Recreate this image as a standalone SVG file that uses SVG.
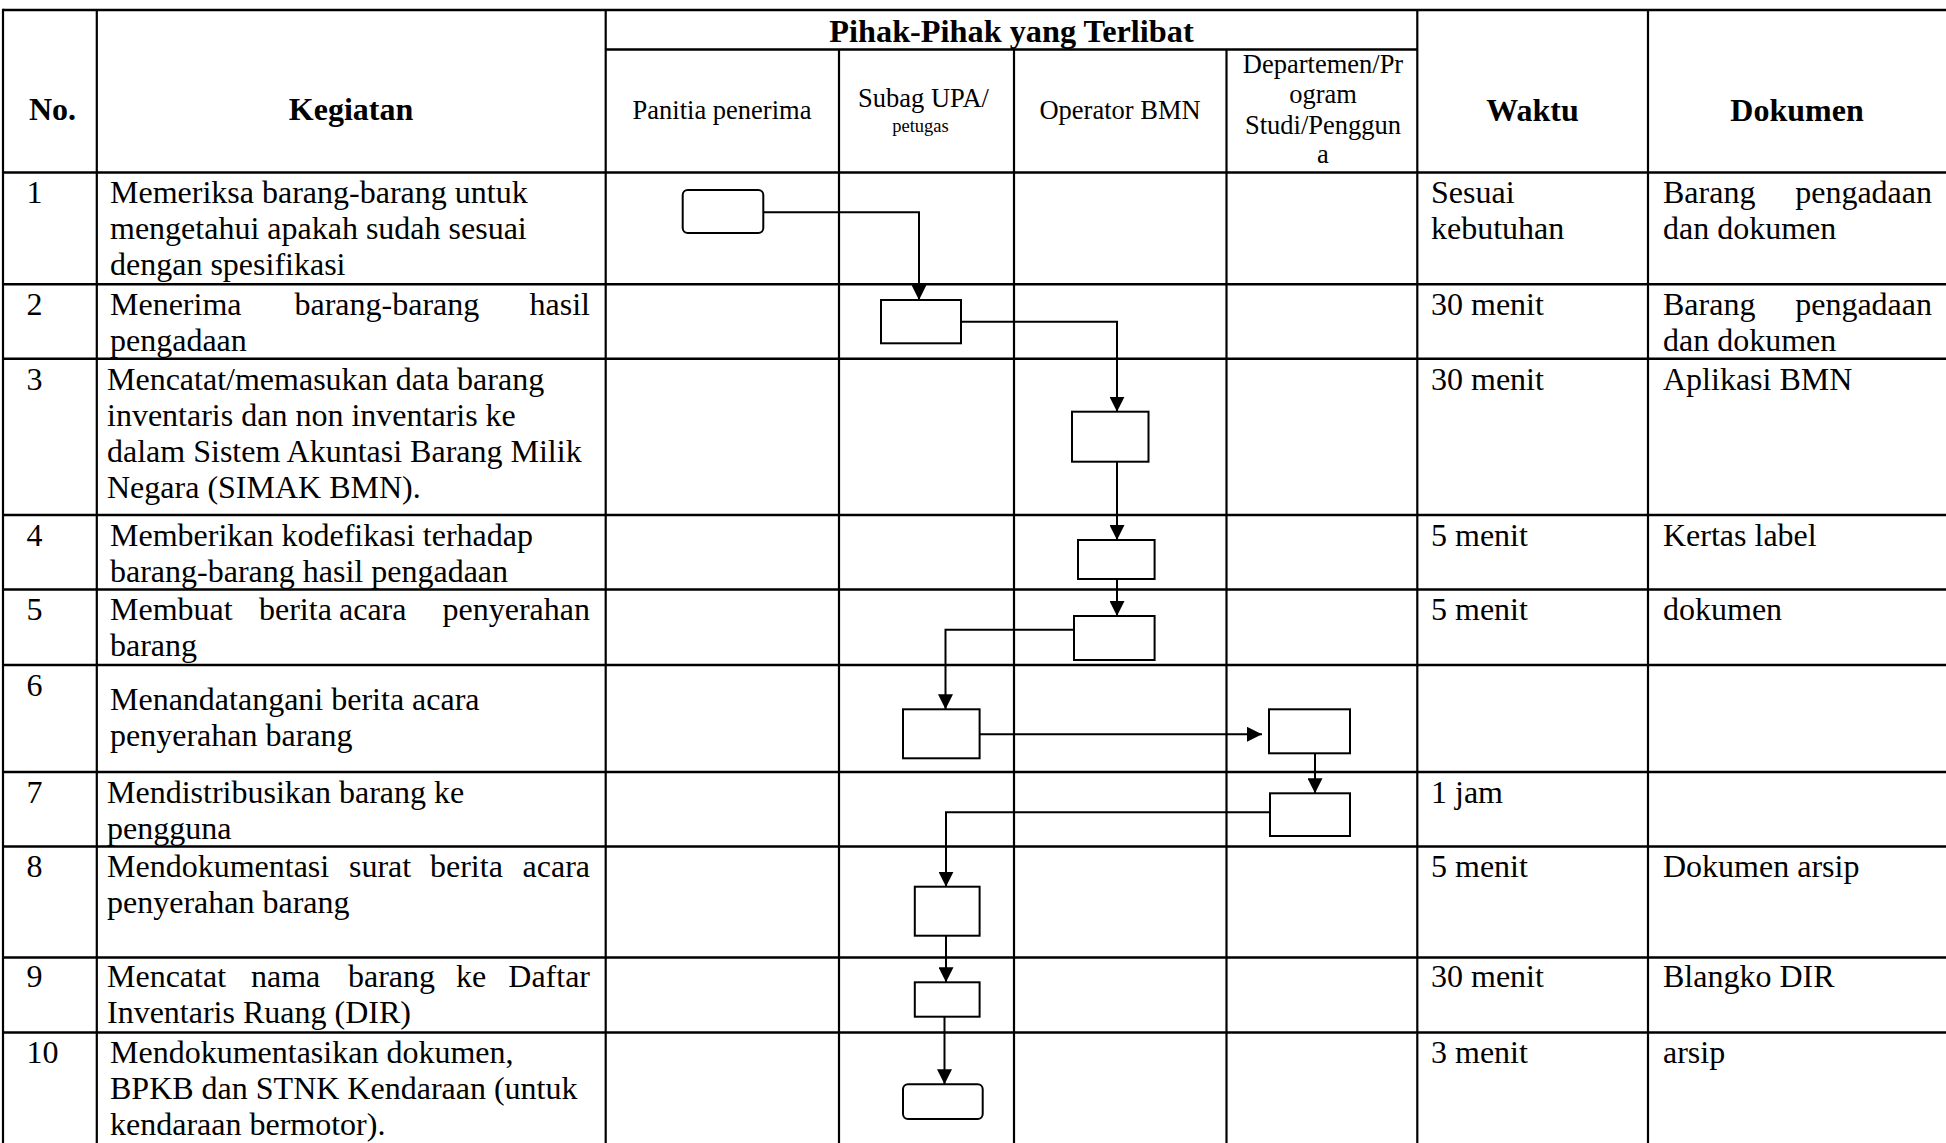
<svg xmlns="http://www.w3.org/2000/svg" width="1946" height="1143" viewBox="0 0 1946 1143">
<style>
.bg{fill:#fff}
.g{stroke:#000;stroke-width:2.5;fill:none}
.gv{stroke:#000;stroke-width:2.2;fill:none}
.box{fill:#fff;stroke:#000;stroke-width:2}
.c{fill:none;stroke:#000;stroke-width:2}
text{font-family:"Liberation Serif","Times New Roman",serif;fill:#000}
.t{font-size:32px}
.h{font-size:32px;font-weight:bold}
.s{font-size:26.5px}
.xs{font-size:18.5px}
.m{text-anchor:middle}
.e{text-anchor:end}
</style>
<defs>
<marker id="arr" markerUnits="userSpaceOnUse" markerWidth="15" markerHeight="15" refX="15" refY="7.5" orient="auto">
<path d="M0,0 L15,7.5 L0,15 z" fill="#000"/>
</marker>
</defs>
<rect class="bg" x="0" y="0" width="1946" height="1143"/>
<g id="grid">
<line class="g" x1="3" y1="10" x2="1946" y2="10"/>
<line class="g" x1="605.7" y1="49.6" x2="1417.3" y2="49.6"/>
<line class="g" x1="3" y1="172.5" x2="1946" y2="172.5"/>
<line class="g" x1="3" y1="284.3" x2="1946" y2="284.3"/>
<line class="g" x1="3" y1="358.7" x2="1946" y2="358.7"/>
<line class="g" x1="3" y1="515" x2="1946" y2="515"/>
<line class="g" x1="3" y1="589.5" x2="1946" y2="589.5"/>
<line class="g" x1="3" y1="665" x2="1946" y2="665"/>
<line class="g" x1="3" y1="772" x2="1946" y2="772"/>
<line class="g" x1="3" y1="846.4" x2="1946" y2="846.4"/>
<line class="g" x1="3" y1="957.5" x2="1946" y2="957.5"/>
<line class="g" x1="3" y1="1032.6" x2="1946" y2="1032.6"/>
<line class="gv" x1="3" y1="8.8" x2="3" y2="1143"/>
<line class="gv" x1="96.8" y1="10" x2="96.8" y2="1143"/>
<line class="gv" x1="605.7" y1="10" x2="605.7" y2="1143"/>
<line class="gv" x1="839" y1="49.6" x2="839" y2="1143"/>
<line class="gv" x1="1014" y1="49.6" x2="1014" y2="1143"/>
<line class="gv" x1="1226.5" y1="49.6" x2="1226.5" y2="1143"/>
<line class="gv" x1="1417.3" y1="10" x2="1417.3" y2="1143"/>
<line class="gv" x1="1648" y1="10" x2="1648" y2="1143"/>
</g>
<g id="header">
<text class="h" x="29" y="120">No.</text>
<text class="h m" x="351" y="120">Kegiatan</text>
<text class="h m" x="1011.5" y="42" style="font-size:32.3px">Pihak-Pihak yang Terlibat</text>
<text class="s m" x="722" y="118.5">Panitia penerima</text>
<text class="s m" x="923.5" y="106.5">Subag UPA/</text>
<text class="xs m" x="920.5" y="131.5">petugas</text>
<text class="s m" x="1120" y="119">Operator BMN</text>
<text class="s m" x="1323" y="73">Departemen/Pr</text>
<text class="s m" x="1323" y="103">ogram</text>
<text class="s m" x="1323" y="133.5">Studi/Penggun</text>
<text class="s m" x="1323" y="163">a</text>
<text class="h m" x="1532.5" y="121">Waktu</text>
<text class="h m" x="1797" y="121">Dokumen</text>
</g>
<g id="rows">
<text class="t" x="26.5" y="203">1</text>
<text class="t" x="110" y="203">Memeriksa barang-barang untuk</text>
<text class="t" x="110" y="239">mengetahui apakah sudah sesuai</text>
<text class="t" x="110" y="275">dengan spesifikasi</text>
<text class="t" x="1431" y="203">Sesuai</text>
<text class="t" x="1431" y="239">kebutuhan</text>
<text class="t" x="1663" y="203">Barang</text>
<text class="t e" x="1932" y="203">pengadaan</text>
<text class="t" x="1663" y="239">dan dokumen</text>

<text class="t" x="26.5" y="315">2</text>
<text class="t" x="110" y="315">Menerima</text>
<text class="t" x="294.5" y="315">barang-barang</text>
<text class="t e" x="590" y="315">hasil</text>
<text class="t" x="110" y="351">pengadaan</text>
<text class="t" x="1431" y="315">30 menit</text>
<text class="t" x="1663" y="315">Barang</text>
<text class="t e" x="1932" y="315">pengadaan</text>
<text class="t" x="1663" y="351">dan dokumen</text>

<text class="t" x="26.5" y="389.5">3</text>
<text class="t" x="107" y="389.5">Mencatat/memasukan data barang</text>
<text class="t" x="107" y="425.5">inventaris dan non inventaris ke</text>
<text class="t" x="107" y="461.5">dalam Sistem Akuntasi Barang Milik</text>
<text class="t" x="107" y="497.5">Negara (SIMAK BMN).</text>
<text class="t" x="1431" y="389.5">30 menit</text>
<text class="t" x="1663" y="389.5">Aplikasi BMN</text>

<text class="t" x="26.5" y="545.5">4</text>
<text class="t" x="110" y="545.5">Memberikan kodefikasi terhadap</text>
<text class="t" x="110" y="581.5">barang-barang hasil pengadaan</text>
<text class="t" x="1431" y="545.5">5 menit</text>
<text class="t" x="1663" y="545.5">Kertas label</text>

<text class="t" x="26.5" y="620">5</text>
<text class="t" x="110" y="620">Membuat</text>
<text class="t" x="259" y="620">berita</text>
<text class="t" x="339" y="620">acara</text>
<text class="t e" x="590" y="620">penyerahan</text>
<text class="t" x="110" y="656">barang</text>
<text class="t" x="1431" y="620">5 menit</text>
<text class="t" x="1663" y="620">dokumen</text>

<text class="t" x="26.5" y="695.5">6</text>
<text class="t" x="110" y="710">Menandatangani berita acara</text>
<text class="t" x="110" y="746">penyerahan barang</text>

<text class="t" x="26.5" y="802.5">7</text>
<text class="t" x="107" y="802.5">Mendistribusikan barang ke</text>
<text class="t" x="107" y="838.5">pengguna</text>
<text class="t" x="1431" y="802.5">1 jam</text>

<text class="t" x="26.5" y="877">8</text>
<text class="t" x="107" y="877">Mendokumentasi</text>
<text class="t" x="349" y="877">surat</text>
<text class="t" x="430" y="877">berita</text>
<text class="t e" x="590" y="877">acara</text>
<text class="t" x="107" y="913">penyerahan barang</text>
<text class="t" x="1431" y="877">5 menit</text>
<text class="t" x="1663" y="877">Dokumen arsip</text>

<text class="t" x="26.5" y="987">9</text>
<text class="t" x="107" y="987">Mencatat</text>
<text class="t" x="251" y="987">nama</text>
<text class="t" x="348" y="987">barang</text>
<text class="t" x="456" y="987">ke</text>
<text class="t e" x="590" y="987">Daftar</text>
<text class="t" x="107" y="1023">Inventaris Ruang (DIR)</text>
<text class="t" x="1431" y="987">30 menit</text>
<text class="t" x="1663" y="987">Blangko DIR</text>

<text class="t" x="26.5" y="1063">10</text>
<text class="t" x="110" y="1063">Mendokumentasikan dokumen,</text>
<text class="t" x="110" y="1099">BPKB dan STNK Kendaraan (untuk</text>
<text class="t" x="110" y="1135">kendaraan bermotor).</text>
<text class="t" x="1431" y="1063">3 menit</text>
<text class="t" x="1663" y="1063">arsip</text>
</g>
<g id="connectors">
<path class="c" d="M763.3,212.3 H919 V300" marker-end="url(#arr)"/>
<path class="c" d="M961,321.7 H1117 V411.7" marker-end="url(#arr)"/>
<path class="c" d="M1117,461.7 V540" marker-end="url(#arr)"/>
<path class="c" d="M1117,579 V616" marker-end="url(#arr)"/>
<path class="c" d="M1074,629.7 H945.5 V709.3" marker-end="url(#arr)"/>
<path class="c" d="M979.6,734.3 H1262" marker-end="url(#arr)"/>
<path class="c" d="M1315,753.3 V793.3" marker-end="url(#arr)"/>
<path class="c" d="M1270,812.3 H946 V886.7" marker-end="url(#arr)"/>
<path class="c" d="M946,935.7 V982.3" marker-end="url(#arr)"/>
<path class="c" d="M944.5,1016.7 V1084.3" marker-end="url(#arr)"/>
</g>
<g id="n1"><rect class="box" x="682.7" y="190" width="80.6" height="43" rx="5"/></g>
<g id="n2"><rect class="box" x="881" y="300" width="80" height="43.3"/></g>
<g id="n3"><rect class="box" x="1072" y="411.7" width="76.5" height="50"/></g>
<g id="n4"><rect class="box" x="1078" y="540" width="76.6" height="39"/></g>
<g id="n5"><rect class="box" x="1074" y="616" width="80.6" height="44"/></g>
<g id="n6"><rect class="box" x="903" y="709.3" width="76.6" height="49"/></g>
<g id="n7"><rect class="box" x="1269" y="709.3" width="81" height="44"/></g>
<g id="n8"><rect class="box" x="1270" y="793.3" width="80" height="42.7"/></g>
<g id="n9"><rect class="box" x="914.8" y="886.7" width="64.8" height="49"/></g>
<g id="n10"><rect class="box" x="914.8" y="982.3" width="64.8" height="34.4"/></g>
<g id="n11"><rect class="box" x="903" y="1084.3" width="79.7" height="34.7" rx="5"/></g>
</svg>
